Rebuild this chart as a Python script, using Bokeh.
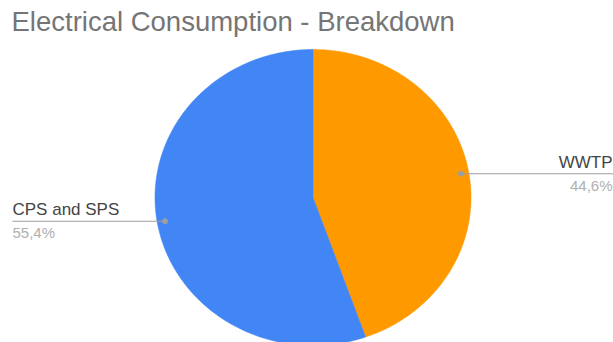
import numpy as np
from bokeh.plotting import figure
from bokeh.models import Range1d
from bokeh.core.properties import value
from bokeh.embed import file_html
from bokeh.resources import INLINE

title = "Electrical Consumption - Breakdown"
categories = ["WWTP", "CPS and SPS"]
shares = [44.6, 55.4]
pct_labels = ["44,6%", "55,4%"]
colors = ["#FF9900", "#4285F4"]

W, H = 613, 342
p = figure(width=W, height=H, output_backend="svg", toolbar_location=None,
           x_range=Range1d(0, W), y_range=Range1d(H, 0), min_border=0)
p.axis.visible = False
p.grid.visible = False
p.outline_line_color = None
p.background_fill_color = "white"
p.border_fill_color = "white"

cx, cy, rx, ry = 312.5, 197.0, 158.0, 148.0

total = sum(shares)
start = 0.0
xs, ys, mids = [], [], []
for s in shares:
    frac = s / total
    a0, a1 = start * 2 * np.pi, (start + frac) * 2 * np.pi
    t = np.linspace(a0, a1, 200)
    px = [cx] + list(cx + rx * np.sin(t)) + [cx]
    py = [cy] + list(cy - ry * np.cos(t)) + [cy]
    xs.append(px)
    ys.append(py)
    mids.append((a0 + a1) / 2)
    start += frac

p.patches(xs=xs, ys=ys, fill_color=colors, line_color=colors, line_width=0.5)

# leader lines and labels
font = value("Liberation Sans")
for i, (cat, lab, m) in enumerate(zip(categories, pct_labels, mids)):
    dx = cx + 0.95 * rx * np.sin(m)
    dy = cy - 0.95 * ry * np.cos(m)
    if np.sin(m) > 0:
        x_end, align, tx = W, "right", W - 1
    else:
        x_end, align, tx = 12, "left", 12
    p.line([dx, x_end], [dy, dy], line_color="#9e9e9e", line_width=1.2)
    p.scatter([dx], [dy], size=5, color="#9e9e9e")
    p.text([tx], [dy - 2], text=[cat], text_font=font, text_font_size="17px",
           text_color="#444444", text_align=align, text_baseline="bottom")
    p.text([tx], [dy + 3], text=[lab], text_font=font, text_font_size="15px",
           text_color="#b0b0b0", text_align=align, text_baseline="top")

p.text([11], [5], text=[title], text_font=font, text_font_size="27.5px",
       text_color="#757575", text_align="left", text_baseline="top")

open("out.html", "w").write(file_html(p, INLINE))
